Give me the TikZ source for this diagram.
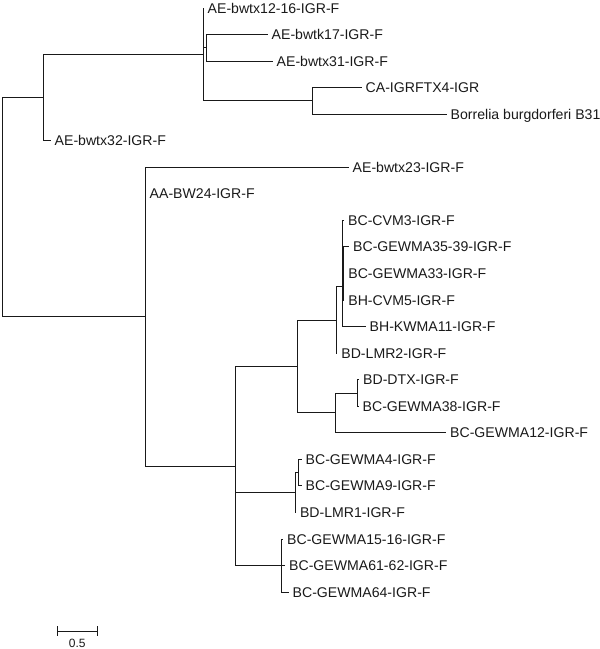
\documentclass[tikz,border=0pt]{standalone}
\usepackage{fontspec}
\setmainfont{Liberation Sans}
\begin{document}
\begin{tikzpicture}[x=1pt,y=-1pt,
  br/.style={line width=1pt, draw=black!90, line cap=rect},
  lab/.style={anchor=west, inner sep=0pt, font=\fontsize{14.1}{16}\selectfont, text height=10pt, text depth=0pt, xshift=4.5pt, text=black!90},
  sclab/.style={inner sep=0pt, font=\fontsize{12}{14}\selectfont, text height=8.6pt, text depth=0pt, text=black!90}]
\useasboundingbox (0,0) rectangle (600,649);
% internal nodes
\coordinate (R) at (2,207.3);
\coordinate (A) at (43,97.9);
\coordinate (C) at (203,54.5);
\coordinate (D) at (206,47.8);
\coordinate (E) at (312,100.9);
\coordinate (B) at (145,316.6);
\coordinate (F) at (235,466);
\coordinate (G) at (297.7,366.5);
\coordinate (J) at (336.7,320);
\coordinate (L) at (342.5,286.8);
\coordinate (M) at (342.7,247);
\coordinate (N) at (343.7,273.5);
\coordinate (K) at (335,412.9);
\coordinate (O) at (357.5,393);
\coordinate (H) at (295,492.5);
\coordinate (Q) at (298.3,472.6);
\coordinate (I) at (281.7,565.5);
% tips and labels
\foreach \n/\x/\y/\t in {
  0/203/8/AE-bwtx12-16-IGR-F,
  1/267/34.55/AE-bwtk17-IGR-F,
  2/272/61.1/AE-bwtx31-IGR-F,
  3/361/87.65/CA-IGRFTX4-IGR,
  4/446/114.2/Borrelia burgdorferi B31,
  5/50/140.75/AE-bwtx32-IGR-F,
  6/348/167.3/AE-bwtx23-IGR-F,
  7/145/193.85/AA-BW24-IGR-F,
  8/343.5/220.4/BC-CVM3-IGR-F,
  9/348.5/246.95/BC-GEWMA35-39-IGR-F,
  10/343.7/273.5/BC-GEWMA33-IGR-F,
  11/343.7/300.05/BH-CVM5-IGR-F,
  12/365/326.6/BH-KWMA11-IGR-F,
  13/336.7/353.15/BD-LMR2-IGR-F,
  14/358.5/379.7/BD-DTX-IGR-F,
  15/358/406.25/BC-GEWMA38-IGR-F,
  16/445.5/432.8/BC-GEWMA12-IGR-F,
  17/301/459.35/BC-GEWMA4-IGR-F,
  18/301/485.9/BC-GEWMA9-IGR-F,
  19/295.3/512.45/BD-LMR1-IGR-F,
  20/282.5/539/BC-GEWMA15-16-IGR-F,
  21/284.5/565.55/BC-GEWMA61-62-IGR-F,
  22/288/592.1/BC-GEWMA64-IGR-F}{
  \coordinate (t\n) at (\x,\y);
  \node[lab] (n\n) at (t\n) {\t};
}
% branches
\foreach \p/\c in {R/A, R/B, A/C, A/t5, C/t0, C/D, C/E, D/t1, D/t2, E/t3, E/t4,
  B/t6, B/t7, B/F, F/G, F/H, F/I, G/J, G/K, J/L, J/t13, L/M, L/t12,
  M/t8, M/N, N/t9, N/t10, N/t11, K/O, K/t16, O/t14, O/t15,
  H/Q, H/t19, Q/t17, Q/t18, I/t20, I/t21, I/t22}{
  \draw[br] (\p) |- (\c);
}
% scale bar
\coordinate (s1) at (57.3,631);
\coordinate (s2) at (97.3,631);
\draw[br] (s1) -- (s2);
\draw[br] ([yshift=4.5pt]s1) -- ([yshift=-4.5pt]s1);
\draw[br] ([yshift=4.5pt]s2) -- ([yshift=-4.5pt]s2);
\node[sclab] (sl) at (77.3,642.7) {0.5};
\end{tikzpicture}
\end{document}
